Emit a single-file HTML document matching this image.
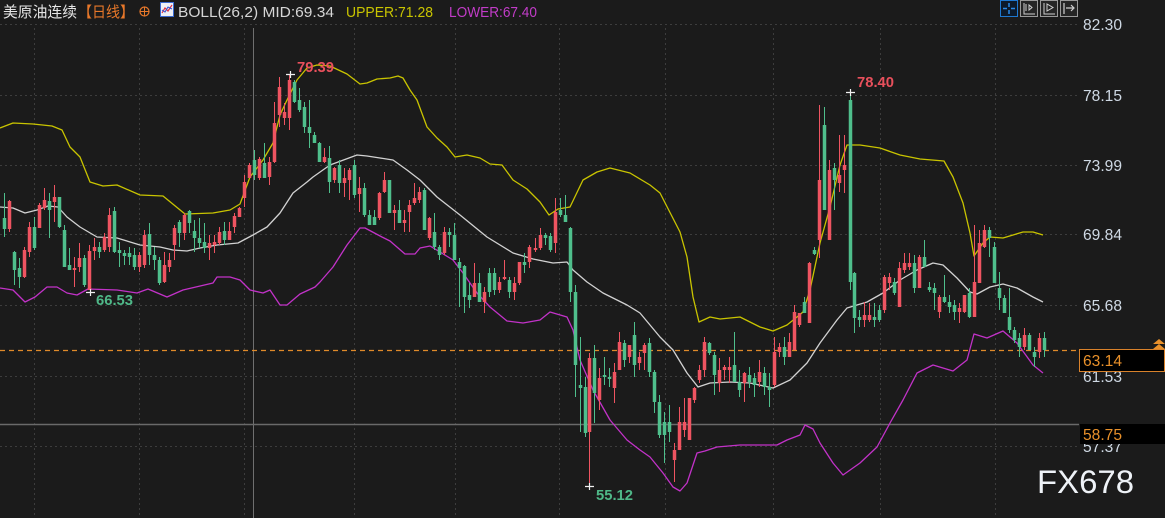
<!DOCTYPE html>
<html><head><meta charset="utf-8"><style>
html,body{margin:0;padding:0;background:#1b1b1b;overflow:hidden}
svg{display:block}
text{font-family:"Liberation Sans","Noto Sans CJK SC",sans-serif}
</style></head><body>
<svg width="1165" height="518" viewBox="0 0 1165 518" xmlns="http://www.w3.org/2000/svg">
<rect x="0" y="0" width="1165" height="518" fill="#1b1b1b"/>
<!-- grid -->
<g stroke="#3d3d3d" stroke-width="1" stroke-dasharray="2 3" fill="none">
<path d="M0 24.5H1078M0 95.5H1078M0 165.5H1078M0 234.5H1078M0 305.5H1078M0 376.5H1078M0 446.5H1078"/>
<path d="M34.5 28V518M139.5 28V518M244.5 28V518M354.5 28V518M455.5 28V518M559.5 28V518M665.5 28V518M773.5 28V518M880.5 28V518M995.5 28V518"/>
</g>
<!-- crosshair lines -->
<path d="M253.5 28V518" stroke="#6f6f6f" stroke-width="1"/>
<path d="M0 424.5H1079" stroke="#6a6a6a" stroke-width="1.5"/>
<!-- current price dashed -->
<path d="M0 350.5H1079" stroke="#e08a2a" stroke-width="1.3" stroke-dasharray="5 4"/>
<!-- bands -->
<g fill="none" stroke-width="1.3" stroke-linejoin="round">
<polyline stroke="#c9c400" points="0,128 13,123 33,124 52,126 62,130 70,147 80,157 90,182 103,186 117,185 140,195 163,196 185,214 213,213 230,210 240,204 250,177 263,160 273,143 280,115 287,100 297,80 307,68 317,65 330,66 347,74 360,84 367,83 377,79 390,78 398,76 403,78 410,90 417,100 427,127 437,138 447,147 455,157 467,155 480,158 490,164 502,165 513,180 527,189 540,202 549,215 558,209 570,207 583,180 597,172 610,168 630,173 650,185 660,193 680,232 687,257 693,297 699,322 710,317 720,319 740,317 760,327 773,331 787,325 797,317 803,312 810,290 820,243 830,207 840,165 847,145 860,145 880,148 900,155 920,159 944,161 953,177 963,203 970,233 974,256 983,243 990,237 1003,238 1023,232 1033,232 1043,235"/>
<polyline stroke="#d2d2d2" points="0,207 13,208 25,213 37,210 48,206 58,207 67,217 80,227 97,237 117,238 140,245 160,247 173,250 187,251 200,248 217,245 238,243 253,235 267,227 280,213 293,193 307,182 313,177 330,165 357,155 367,156 380,158 393,160 407,170 420,180 437,197 460,215 487,237 513,253 533,259 553,263 567,262 573,270 587,282 603,293 627,305 640,313 660,337 673,350 687,373 698,387 710,383 730,382 750,383 773,388 790,380 807,363 820,343 837,320 847,308 867,302 883,293 900,280 917,270 933,263 943,265 957,278 970,292 977,294 990,287 1003,284 1017,288 1033,297 1043,302"/>
<polyline stroke="#c232c8" points="0,288 13,290 25,302 35,297 47,287 57,287 67,293 77,295 88,289 117,290 137,293 148,289 167,297 183,290 213,283 217,277 230,277 240,280 250,290 263,293 270,290 280,305 287,305 300,294 315,287 320,282 333,267 347,245 360,228 365,228 382,237 390,241 405,254 415,254 420,248 430,246 440,252 453,260 463,273 477,293 490,307 507,321 523,323 540,320 550,312 567,317 573,330 580,360 593,390 610,420 627,440 640,450 650,457 663,473 673,487 680,491 687,483 697,453 705,451 717,447 740,445 777,445 787,440 800,435 805,425 813,429 820,443 833,463 843,475 860,463 877,447 890,423 903,400 917,373 933,365 953,371 967,360 974,334 987,338 1003,331 1017,343 1033,365 1043,373"/>
</g>
<!-- candles -->
<g transform="translate(0.5 0)" fill="none">
<path stroke="#ef5461" stroke-width="1" d="M9 200V232M24 247V278M29 222V257M39 203V228M44 188V210M54 185V222M74 257V287M79 243V272M89 245V290M94 238V260M104 233V252M109 208V252M139 252V272M144 230V268M164 252V283M169 253V272M174 225V260M184 213V240M209 235V260M214 235V253M219 227V245M229 222V240M234 213V233M239 207V217M244 175V207M249 163V178M259 157V180M269 157V185M274 102V163M279 77V127M284 103V125M289 75V130M324 148V163M334 167V183M344 168V197M349 168V200M359 177V212M379 192V220M384 172V193M394 205V230M404 210V232M409 200V232M414 183V205M419 187V203M429 217V240M444 227V255M474 263V297M484 287V313M499 277V293M504 260V280M514 277V300M519 262V285M529 245V268M535 238V252M540 228V250M555 198V253M589 353V486M599 368V410M614 363V403M619 332V370M629 345V363M639 352V370M644 343V370M674 443V482M679 407V450M684 398V437M689 398V440M694 387V403M699 365V383M704 337V377M719 358V392M724 365V380M729 357V383M744 372V402M759 360V387M774 337V387M779 343V357M789 333V357M794 305V350M799 313V327M809 262V323M819 105V258M829 160V240M839 135V192M844 135V193M864 302V327M869 303V322M884 275V313M889 273V290M899 262V307M904 253V273M909 253V270M919 255V288M939 295V318M959 303V323M964 295V313M974 225V317M979 230V283M984 225V248M1024 328V350M1039 333V358"/>
<path stroke="#ef5461" stroke-width="3.5" d="M9 201V229M24 250V277M29 227V252M39 205V228M44 200V208M54 197V202M74 268V270M79 258V267M89 251V290M94 247V251M104 237V250M109 215V247M139 255V267M144 235V265M164 265V282M169 260V267M174 228V245M184 215V233M209 243V248M214 242V245M219 232V243M229 231V240M234 216V227M239 208V217M244 182V198M249 165V178M259 159V178M269 162V177M274 123V162M279 87V115M284 112V118M289 80V118M324 157V162M334 168V180M344 178V183M349 170V180M359 188V194M379 193V218M384 180V192M394 210V213M404 220V223M409 205V212M414 198V203M419 192V200M429 218V238M444 232V253M474 283V297M484 292V302M499 282V290M504 277V279M514 283V292M519 262V283M529 247V262M535 248V250M540 235V248M555 212V243M589 358V432M599 378V400M614 372V388M619 342V370M629 345V357M639 357V363M644 345V353M674 450V460M679 422V450M684 422V430M689 398V440M694 388V400M699 370V380M704 342V370M719 370V383M724 367V370M729 367V370M744 373V383M759 372V382M774 352V385M779 347V352M789 342V357M794 312V350M799 313V325M809 263V323M819 180V240M829 170V240M839 175V183M844 165V170M864 315V320M869 315V320M884 277V310M889 277V283M899 268V307M904 263V270M909 263V267M919 257V288M939 297V312M959 308V312M964 295V312M974 282V317M979 243V283M984 230V247M1024 335V347M1039 338V352"/>
<path stroke="#4fbf8c" stroke-width="1" d="M4 193V237M14 251V285M19 258V288M34 217V250M49 193V238M59 197V228M64 225V267M69 248V270M84 255V287M99 242V258M114 207V253M119 242V267M124 250V265M129 247V265M134 248V270M149 223V265M154 247V270M159 257V285M179 220V247M189 210V233M194 220V252M199 218V248M204 223V253M224 222V245M254 150V180M264 143V178M294 80V103M299 88V112M304 102V133M309 100V148M314 132V143M319 142V162M329 146V193M339 160V193M354 160V198M364 183V217M369 210V225M374 210V225M389 180V213M399 200V223M424 188V230M434 213V250M439 245V260M449 228V247M454 223V260M459 258V307M464 265V313M469 283V308M479 273V302M489 268V297M494 268V295M509 277V298M524 253V273M545 233V245M550 233V252M560 198V217M565 195V222M570 227V302M575 285V397M580 337V432M585 377V437M594 345V423M604 357V385M609 368V387M624 340V367M634 322V377M649 338V377M654 370V413M659 395V438M664 412V463M669 405V442M709 342V355M714 352V395M734 332V382M739 370V397M749 367V388M754 373V397M764 367V395M769 373V407M784 337V365M804 297V313M814 247V255M824 107V210M834 163V210M850 92V290M854 272V333M859 310V327M874 303V327M879 305V322M894 278V295M914 255V293M924 240V267M929 282V292M934 283V310M944 275V303M949 295V313M954 300V320M969 288V318M989 227V257M994 242V283M999 272V310M1004 295V313M1009 288V333M1014 327V343M1019 333V357M1029 333V350M1034 347V367M1044 332V357"/>
<path stroke="#4fbf8c" stroke-width="3.5" d="M4 218V229M14 252V270M19 268V277M34 227V248M49 201V210M59 197V227M64 230V267M69 265V270M84 258V285M99 247V252M114 211V252M119 250V253M124 253V256M129 253V257M134 255V267M149 234V255M154 255V260M159 260V283M179 222V233M189 211V223M194 231V238M199 238V243M204 242V248M224 231V240M254 160V175M264 163V178M294 82V102M299 100V110M304 107V127M309 127V133M314 135V143M319 143V162M329 158V182M339 165V183M354 165V195M364 188V215M369 215V225M374 217V225M389 180V213M399 210V223M424 190V230M434 232V247M439 247V255M449 232V235M454 235V260M459 262V268M464 266V297M469 295V300M479 283V302M489 273V292M494 273V290M509 280V292M524 262V265M545 235V238M550 236V250M560 210V215M565 215V222M570 228V292M575 292V365M580 385V388M585 387V433M594 358V393M604 375V377M609 377V379M624 343V360M634 335V365M649 343V372M654 372V402M659 402V435M664 422V435M669 422V432M709 343V353M714 355V375M734 365V382M739 382V390M749 375V382M754 378V385M764 373V387M769 387V390M784 347V357M804 302V313M814 250V254M824 125V210M834 168V180M850 100V282M854 273V318M859 317V320M874 317V320M879 310V320M894 282V293M914 263V288M924 257V267M929 287V290M934 288V293M944 297V302M949 302V307M954 305V312M969 293V317M989 230V238M994 247V283M999 288V298M1004 298V313M1009 317V330M1014 330V340M1019 338V347M1029 335V350M1034 352V357M1044 338V350"/>
</g>
<!-- extreme markers -->
<g stroke="#f0f0f0" stroke-width="1.2">
<path d="M286 74.5H295M290.5 71V78"/>
<path d="M846 92.5H855M850.5 89V96"/>
<path d="M86 292.5H95M90.5 289V296"/>
<path d="M585 486.5H594M589.5 483V490"/>
</g>
<g font-size="15" font-weight="bold">
<text x="297" y="72" fill="#e8505c" textLength="37" lengthAdjust="spacingAndGlyphs">79.39</text>
<text x="857" y="87" fill="#e8505c" textLength="37" lengthAdjust="spacingAndGlyphs">78.40</text>
<text x="96" y="305" fill="#4fb888" textLength="37" lengthAdjust="spacingAndGlyphs">66.53</text>
<text x="596" y="500" fill="#4fb888" textLength="37" lengthAdjust="spacingAndGlyphs">55.12</text>
</g>
<!-- axis labels -->
<g font-size="15.5" fill="#cfd9e4">
<text x="1083" y="30" textLength="39" lengthAdjust="spacingAndGlyphs">82.30</text>
<text x="1083" y="101" textLength="39" lengthAdjust="spacingAndGlyphs">78.15</text>
<text x="1083" y="171" textLength="39" lengthAdjust="spacingAndGlyphs">73.99</text>
<text x="1083" y="240" textLength="39" lengthAdjust="spacingAndGlyphs">69.84</text>
<text x="1083" y="311" textLength="39" lengthAdjust="spacingAndGlyphs">65.68</text>
<text x="1083" y="382" textLength="39" lengthAdjust="spacingAndGlyphs">61.53</text>
<text x="1083" y="452" textLength="39" lengthAdjust="spacingAndGlyphs">57.37</text>
</g>
<!-- price boxes -->
<rect x="1079.5" y="349.5" width="85" height="22" fill="#000" stroke="#d9822b" stroke-width="1"/>
<text x="1083" y="366" font-size="15.5" fill="#e8902a" textLength="39" lengthAdjust="spacingAndGlyphs">63.14</text>
<path d="M1153 344L1159 339L1165 344Z M1153 349L1159 344L1165 349Z" fill="#e8902a"/>
<rect x="1080" y="424" width="85" height="20" fill="#000"/>
<text x="1083" y="440" font-size="15.5" fill="#e8902a" textLength="39" lengthAdjust="spacingAndGlyphs">58.75</text>
<!-- watermark -->
<text x="1037" y="493" font-size="32" fill="#eef2f7" textLength="97" lengthAdjust="spacingAndGlyphs">FX678</text>
<!-- toolbar -->
<rect x="1000.5" y="0.5" width="17" height="16" fill="#0c1a2a" stroke="#1e78d0"/>
<path d="M1009 3V7M1009 10V14M1003 8.5H1007M1011 8.5H1015" stroke="#2a8ae8" stroke-width="1.5"/>
<rect x="1020.5" y="0.5" width="17" height="16" fill="#252525" stroke="#9a9a9a"/>
<path d="M1024 3V14H1035M1026 4V11M1029 5V10L1032 7.5Z" stroke="#d0d0d0" stroke-width="1" fill="none"/>
<rect x="1040.5" y="0.5" width="17" height="16" fill="#252525" stroke="#9a9a9a"/>
<path d="M1044 3V14H1055M1047 4V11L1053 7.5Z" stroke="#d0d0d0" stroke-width="1" fill="none"/>
<rect x="1060.5" y="0.5" width="17" height="16" fill="#252525" stroke="#9a9a9a"/>
<path d="M1064 3V14M1066 8H1073M1071 5L1074 8L1071 11" stroke="#d0d0d0" stroke-width="1.2" fill="none"/>
<!-- header -->
<text x="3" y="17" font-size="15" fill="#e6e6e6" textLength="74" lengthAdjust="spacingAndGlyphs">美原油连续</text>
<text x="78" y="17" font-size="15" fill="#e8782a" textLength="56" lengthAdjust="spacingAndGlyphs">【日线】</text>
<circle cx="144.5" cy="11.5" r="4.5" fill="none" stroke="#e8782a" stroke-width="1.2"/>
<path d="M140 11.5H149M144.5 7V16" stroke="#e8782a" stroke-width="1"/>
<rect x="160.5" y="2.5" width="13" height="14" fill="#eef0f6" stroke="#3a6ad0"/>
<polyline points="162,13 165,8 168,11 172,5" fill="none" stroke="#e03040" stroke-width="1.2"/>
<polyline points="162,10 165,12 168,7 172,9" fill="none" stroke="#3050d0" stroke-width="1"/>
<text x="178" y="17" font-size="15" fill="#d6d6d6" textLength="156" lengthAdjust="spacingAndGlyphs">BOLL(26,2) MID:69.34</text>
<text x="346" y="17" font-size="15" fill="#c9c400" textLength="87" lengthAdjust="spacingAndGlyphs">UPPER:71.28</text>
<text x="449" y="17" font-size="15" fill="#c23cc8" textLength="88" lengthAdjust="spacingAndGlyphs">LOWER:67.40</text>
</svg>
</body></html>
